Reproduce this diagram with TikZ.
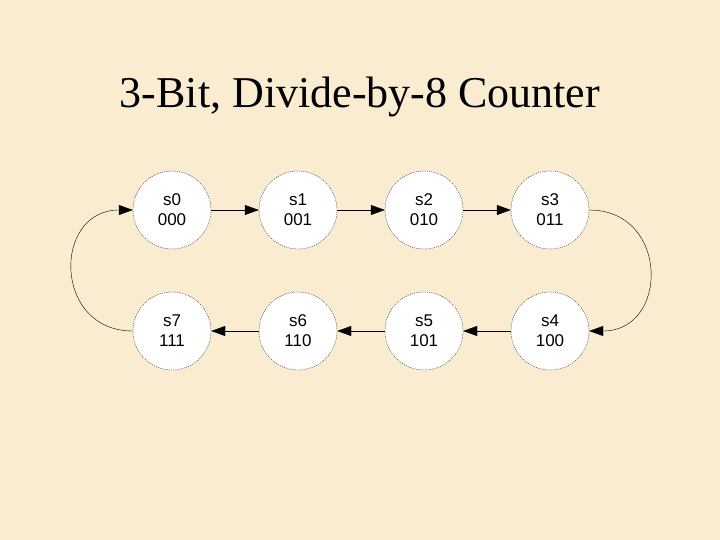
\documentclass[tikz,border=0pt]{standalone}
\usepackage{fontspec}
\setmainfont{Liberation Serif}
\setsansfont{Liberation Sans}
\usetikzlibrary{arrows.meta, positioning}
\definecolor{PaperCream}{RGB}{250, 236, 208}
\definecolor{RingGray}{RGB}{60, 60, 60}

\begin{document}
\begin{tikzpicture}[
    x=1pt, y=1pt,
    on grid, node distance=126pt,
    state/.style={
        circle, draw=RingGray, thin, dash pattern=on 1.2pt off 1pt,
        fill=white, minimum size=78pt, inner sep=0pt, align=center,
        font=\sffamily\fontsize{17}{20}\selectfont
    },
    arrow/.style={-{Triangle[length=14pt,width=10pt]}, thin, color=black}
]
\fill[PaperCream] (0,0) rectangle (720,-540);
\useasboundingbox (0,0) rectangle (720,-540);

% Title
\node[anchor=base, font=\fontsize{44}{52}\selectfont] (title) at (360,-108) {3-Bit, Divide-by-8 Counter};

% States
\node[state] (s0) at (172,-210) {s0\\000};
\node[state, right=of s0] (s1) {s1\\001};
\node[state, right=of s1] (s2) {s2\\010};
\node[state, right=of s2] (s3) {s3\\011};
\node[state, below=121pt of s3] (s4) {s4\\100};
\node[state, left=of s4] (s5) {s5\\101};
\node[state, left=of s5] (s6) {s6\\110};
\node[state, left=of s6] (s7) {s7\\111};

% Transitions
\draw[arrow] (s0) -- (s1);
\draw[arrow] (s1) -- (s2);
\draw[arrow] (s2) -- (s3);
\draw[arrow] (s3.east) to[out=0, in=0, looseness=1.7] (s4.east);
\draw[arrow] (s4) -- (s5);
\draw[arrow] (s5) -- (s6);
\draw[arrow] (s6) -- (s7);
\draw[arrow] (s7.west) to[out=180, in=180, looseness=1.7] (s0.west);

\end{tikzpicture}
\end{document}
